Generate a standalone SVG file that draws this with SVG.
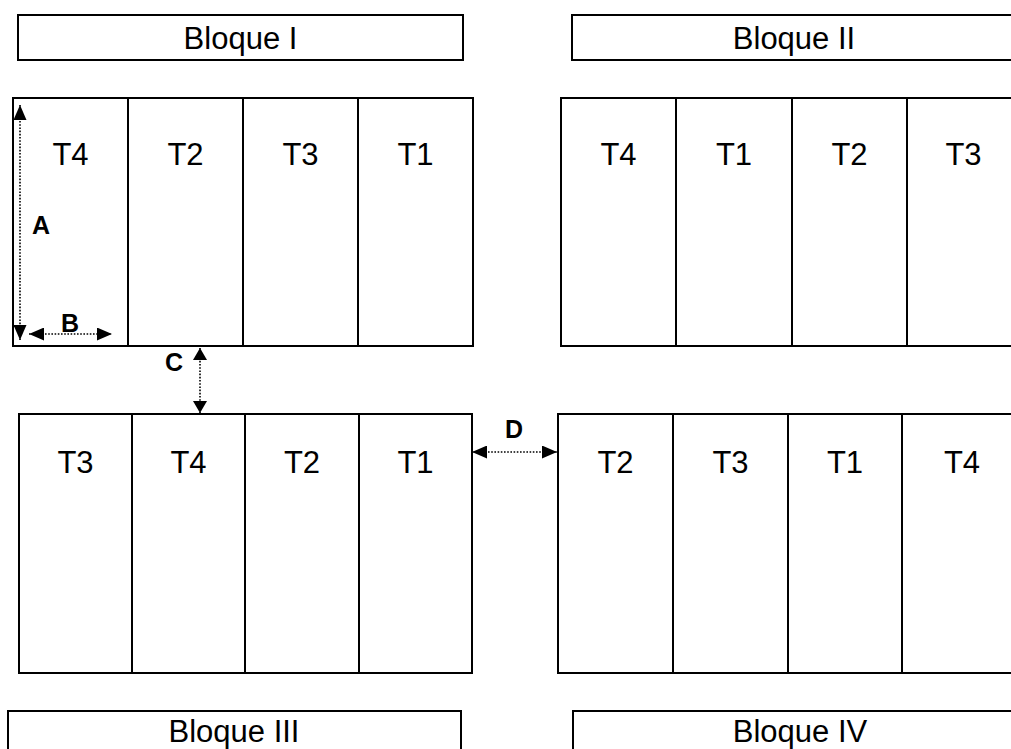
<svg xmlns="http://www.w3.org/2000/svg" width="1011" height="749" viewBox="0 0 1011 749">
  <style>
    .box { fill: #fff; stroke: #000; stroke-width: 2; }
    .div { stroke: #000; stroke-width: 2; }
    .title { font-family: "Liberation Sans", Arial, sans-serif; font-size: 31px; fill: #000; text-anchor: middle; }
    .lbl { font-family: "Liberation Sans", Arial, sans-serif; font-size: 31px; fill: #000; text-anchor: middle; }
    .dim { font-family: "Liberation Sans", Arial, sans-serif; font-size: 25px; font-weight: bold; fill: #000; }
    .dot { stroke: #000; stroke-width: 1.6; stroke-dasharray: 1.6 1.6; fill: none; }
  </style>
  <defs>
    <marker id="arrow" viewBox="0 0 15 13" refX="15" refY="6.5" markerWidth="15" markerHeight="13" markerUnits="userSpaceOnUse" orient="auto-start-reverse">
      <path d="M0,0 L15,6.5 L0,13 Z" fill="#000"/>
    </marker>
    <marker id="arrowSmall" viewBox="0 0 12 14" refX="12" refY="7" markerWidth="12" markerHeight="14" markerUnits="userSpaceOnUse" orient="auto-start-reverse">
      <path d="M0,0 L12,7 L0,14 Z" fill="#000"/>
    </marker>
  </defs>
  <rect width="1011" height="749" fill="#fff"/>

  <!-- block titles -->
  <g id="title-bloque-1">
    <rect class="box" x="18" y="15" width="445" height="45"/>
    <text class="title" x="240.5" y="49">Bloque I</text>
  </g>
  <g id="title-bloque-2">
    <rect class="box" x="572" y="15" width="460" height="45"/>
    <text class="title" x="794" y="49">Bloque II</text>
  </g>
  <g id="title-bloque-3">
    <rect class="box" x="8" y="711" width="453" height="60"/>
    <text class="title" x="234" y="742">Bloque III</text>
  </g>
  <g id="title-bloque-4">
    <rect class="box" x="573" y="711" width="460" height="60"/>
    <text class="title" x="800" y="742">Bloque IV</text>
  </g>

  <!-- Bloque I plots -->
  <g id="bloque-1">
    <rect class="box" x="13" y="98" width="460" height="248"/>
    <line class="div" x1="128" y1="98" x2="128" y2="346"/>
    <line class="div" x1="243" y1="98" x2="243" y2="346"/>
    <line class="div" x1="358" y1="98" x2="358" y2="346"/>
    <text class="lbl" x="70.5" y="165">T4</text>
    <text class="lbl" x="185.5" y="165">T2</text>
    <text class="lbl" x="300.5" y="165">T3</text>
    <text class="lbl" x="415.5" y="165">T1</text>
  </g>

  <!-- Bloque II plots -->
  <g id="bloque-2">
    <rect class="box" x="561" y="98" width="460" height="248"/>
    <line class="div" x1="676" y1="98" x2="676" y2="346"/>
    <line class="div" x1="792" y1="98" x2="792" y2="346"/>
    <line class="div" x1="907" y1="98" x2="907" y2="346"/>
    <text class="lbl" x="618.5" y="165">T4</text>
    <text class="lbl" x="734" y="165">T1</text>
    <text class="lbl" x="849.5" y="165">T2</text>
    <text class="lbl" x="963.5" y="165">T3</text>
  </g>

  <!-- Bloque III plots -->
  <g id="bloque-3">
    <rect class="box" x="19" y="414" width="453" height="259"/>
    <line class="div" x1="132" y1="414" x2="132" y2="673"/>
    <line class="div" x1="245" y1="414" x2="245" y2="673"/>
    <line class="div" x1="359" y1="414" x2="359" y2="673"/>
    <text class="lbl" x="75.5" y="473">T3</text>
    <text class="lbl" x="188.5" y="473">T4</text>
    <text class="lbl" x="302" y="473">T2</text>
    <text class="lbl" x="415.5" y="473">T1</text>
  </g>

  <!-- Bloque IV plots -->
  <g id="bloque-4">
    <rect class="box" x="558" y="414" width="464" height="259"/>
    <line class="div" x1="673" y1="414" x2="673" y2="673"/>
    <line class="div" x1="788" y1="414" x2="788" y2="673"/>
    <line class="div" x1="902" y1="414" x2="902" y2="673"/>
    <text class="lbl" x="615.5" y="473">T2</text>
    <text class="lbl" x="730.5" y="473">T3</text>
    <text class="lbl" x="845" y="473">T1</text>
    <text class="lbl" x="962" y="473">T4</text>
  </g>

  <!-- dimension arrows -->
  <g id="connectors">
    <line class="dot" x1="20" y1="105" x2="20" y2="340" marker-start="url(#arrow)" marker-end="url(#arrow)"/>
    <line class="dot" x1="29" y1="334" x2="112" y2="334" marker-start="url(#arrow)" marker-end="url(#arrow)"/>
    <line class="dot" x1="200" y1="348" x2="200" y2="413" marker-start="url(#arrowSmall)" marker-end="url(#arrowSmall)"/>
    <line class="dot" x1="472" y1="452" x2="557" y2="452" marker-start="url(#arrow)" marker-end="url(#arrow)"/>
    <text class="dim" x="32" y="234">A</text>
    <text class="dim" x="61" y="332">B</text>
    <text class="dim" x="165" y="371">C</text>
    <text class="dim" x="505" y="438">D</text>
  </g>
</svg>
